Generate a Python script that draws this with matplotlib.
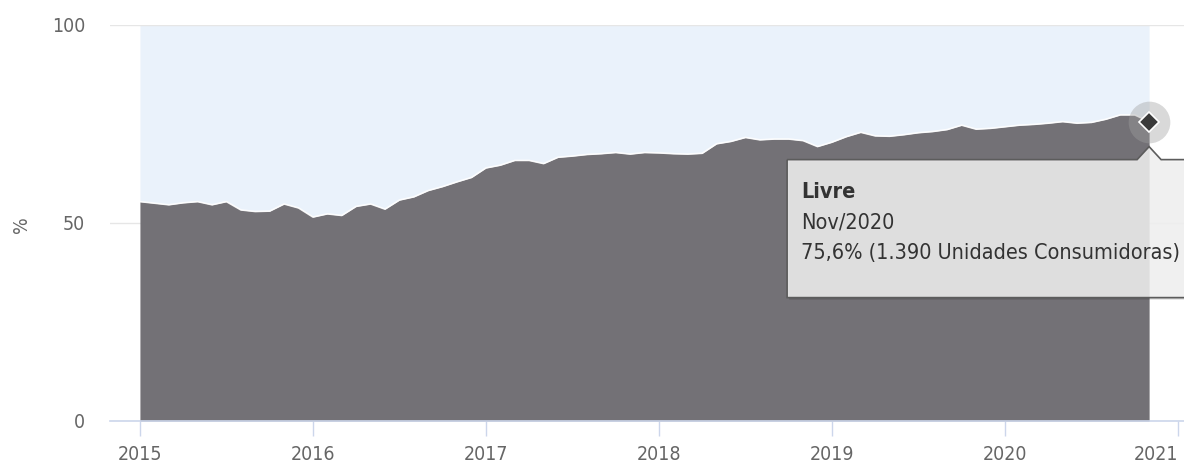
import numpy as np
import matplotlib
matplotlib.use('Agg')
import matplotlib.pyplot as plt
from matplotlib.patches import Polygon
from matplotlib.transforms import IdentityTransform

plt.rcParams['font.family'] = ['DejaVu Sans']
plt.rcParams['font.stretch'] = 'condensed'

# Participação do mercado livre, mensal, jan/2015 a nov/2020 (%)
livre = [55.4, 55.0, 54.6, 55.1, 55.4, 54.6, 55.4, 53.3, 52.9, 53.0, 54.8, 53.8,
         51.5, 52.3, 51.9, 54.2, 54.8, 53.5, 55.8, 56.6, 58.2, 59.2, 60.4, 61.5,
         63.9, 64.6, 65.8, 65.8, 65.0, 66.6, 66.9, 67.3, 67.5, 67.8, 67.4, 67.8,
         67.7, 67.5, 67.4, 67.6, 70.0, 70.6, 71.6, 71.0, 71.2, 71.2, 70.8, 69.3,
         70.4, 71.8, 72.9, 72.0, 71.9, 72.3, 72.8, 73.1, 73.6, 74.7, 73.7, 73.9,
         74.3, 74.7, 74.9, 75.2, 75.6, 75.2, 75.4, 76.2, 77.3, 77.3, 75.6]
ano_inicio = 2015
anos = [2015, 2016, 2017, 2018, 2019, 2020, 2021]
yticks = [0, 50, 100]
tooltip_serie = 'Livre'
tooltip_mes = 'Nov/2020'
tooltip_valor = '75,6% (1.390 Unidades Consumidoras)'

x = ano_inicio + np.arange(len(livre)) / 12.0
livre = np.array(livre)

W, H = 1184, 463
fig = plt.figure(figsize=(W / 100, H / 100), dpi=100)
ax = fig.add_axes([110 / W, 42 / H, (W - 110) / W, (421 - 25) / H])

# áreas empilhadas em percentual: livre (escuro) + restante (azul claro)
ax.fill_between(x, livre, 100, color='#eaf2fb', lw=0, zorder=1)
ax.fill_between(x, 0, livre, color='#737176', lw=0, zorder=2)
ax.plot(x, livre, color='white', lw=1.2, alpha=0.9, zorder=3)

ax.set_xlim(2014.827, 2021.035)
ax.set_ylim(0, 100)
ax.set_xticks(anos)
ax.set_yticks(yticks)
ax.tick_params(axis='x', length=11, width=1, color='#ccd6eb', labelcolor='#666666',
               labelsize=14, pad=6)
ax.tick_params(axis='y', length=0, labelcolor='#666666', labelsize=14, pad=18)
ax.get_xticklabels()[-1].set_horizontalalignment('right')
ax.grid(axis='y', color='#e6e6e6', lw=1, zorder=0)
for s in ['top', 'right', 'left']:
    ax.spines[s].set_visible(False)
ax.spines['bottom'].set_color('#ccd6eb')
ax.spines['bottom'].set_linewidth(1.2)
fig.text(22 / W, 1 - 225 / H, '%', rotation=90, color='#666666', fontsize=14,
         ha='center', va='center')

# ponto destacado
ax.plot(x[-1], livre[-1], 'o', ms=30, color='#a0a0a0', alpha=0.4, mec='none', zorder=5)
ax.plot(x[-1], livre[-1], 'D', ms=10, color='#3a3a3a', mec='white', mew=1.2, zorder=6)

# tooltip, em coordenadas de tela a partir do ponto destacado
fig.canvas.draw()
px, py = ax.transData.transform((x[-1], livre[-1]))
top = py - 38
bot = py - 176
left = px - 362
right = px + 60
tip = [(left, top), (px - 12, top), (px, top + 13), (px + 12, top),
       (right, top), (right, bot), (left, bot)]
shadow = Polygon([(a + 2, b - 2) for a, b in tip], closed=True, transform=IdentityTransform(),
                 facecolor='black', alpha=0.15, lw=0, zorder=7)
fig.patches.append(shadow)
box = Polygon(tip, closed=True, transform=IdentityTransform(), facecolor='#f5f5f5',
              alpha=0.85, lw=0, zorder=8)
fig.patches.append(box)
box_edge = Polygon(tip, closed=True, transform=IdentityTransform(), facecolor='none',
                   edgecolor='#5c5c5c', lw=1.2, zorder=9)
fig.patches.append(box_edge)

tx = (left + 14) / W
fig.text(tx, (top - 32) / H, tooltip_serie, fontsize=15.5, fontweight='bold',
         color='#333333', va='center', zorder=10)
fig.text(tx, (top - 63) / H, tooltip_mes, fontsize=15.5, color='#333333', va='center', zorder=10)
fig.text(tx, (top - 93) / H, tooltip_valor, fontsize=15.5, color='#333333', va='center', zorder=10)

fig.savefig('out.png', dpi=100)
